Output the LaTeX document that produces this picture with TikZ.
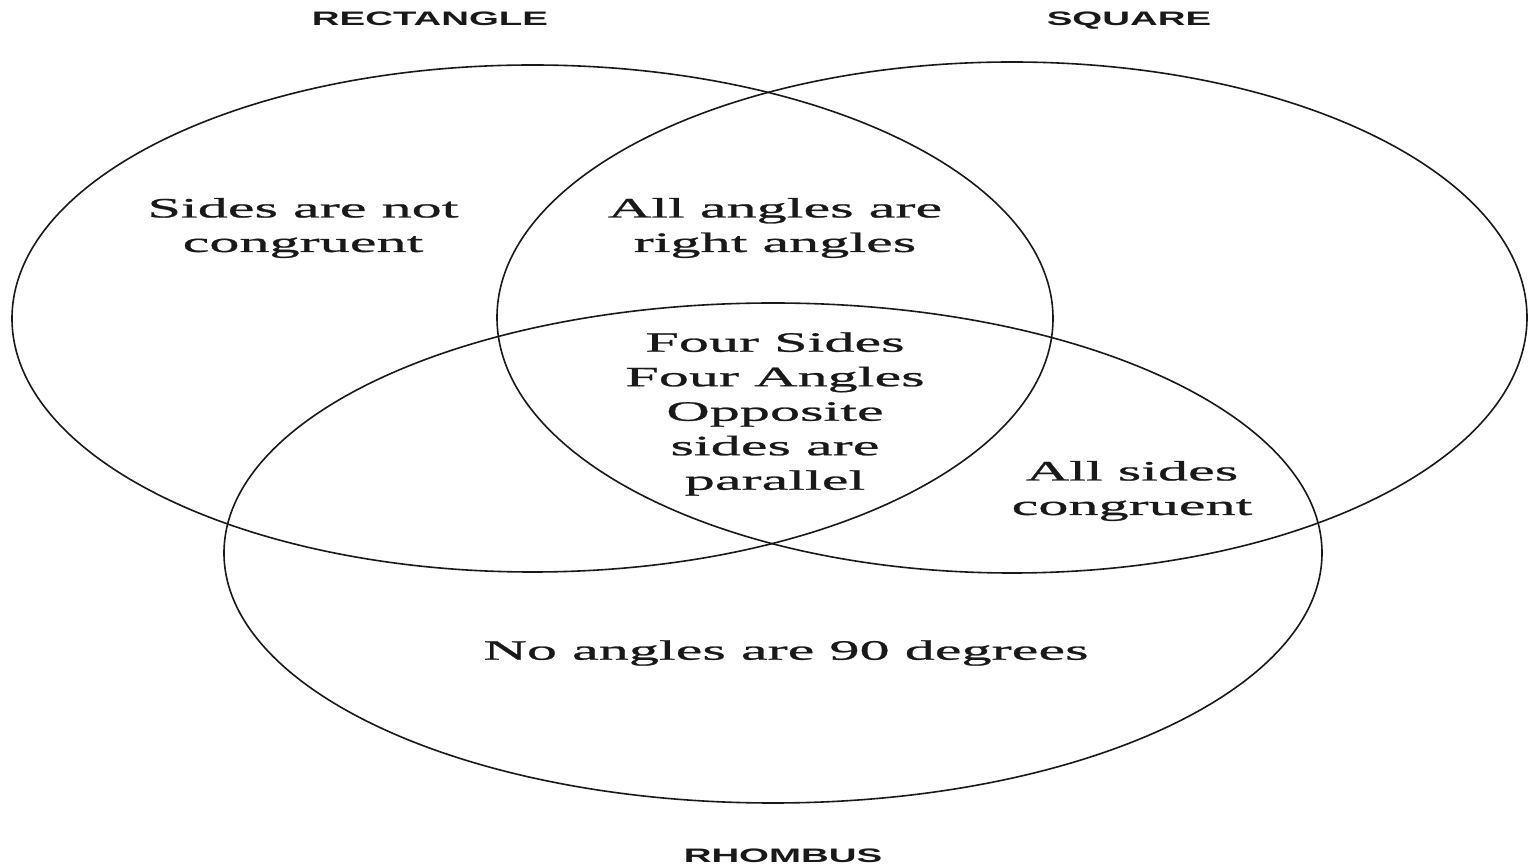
\documentclass[tikz,border=0pt]{standalone}
\usepackage{fontspec}
\newfontfamily\vserif[FakeStretch=2.15,FakeBold=0.9]{Liberation Serif}
\newfontfamily\vsans[FakeStretch=1.97]{Liberation Sans}
\begin{document}
\begin{tikzpicture}[x=0.5pt,y=-0.5pt,
  setline/.style={draw=black!90, line width=0.8pt},
  txt/.style={align=center, inner sep=0pt, text=black!90,
    font=\vserif\fontsize{14}{17.25}\selectfont},
  title/.style={inner sep=0pt, text=black!90,
    font=\vsans\bfseries\fontsize{9.75}{11}\selectfont}]
\useasboundingbox[fill=white] (0,0) rectangle (1528,865);
% sets
\draw[setline] (532.5,318.5) ellipse [x radius=520.5, y radius=253.5];
\draw[setline] (1012,317.5) ellipse [x radius=515, y radius=255.5];
\draw[setline] (773,553) ellipse [x radius=549, y radius=250];
% titles
\node[title] (trect) at (430,19) {RECTANGLE};
\node[title] (tsq) at (1129,21) {SQUARE};
\node[title] (trh) at (783,856) {RHOMBUS};
% region texts
\node[txt] (notcong) at (303,228) {Sides are not\\congruent};
\node[txt] (right) at (775,228) {All angles are\\right angles};
\node[txt] (core) at (775,414) {Four Sides\\Four Angles\\Opposite\\sides are\\parallel};
\node[txt] (allsides) at (1132,491) {All sides\\congruent};
\node[txt] (no90) at (786,653) {No angles are 90 degrees};
\end{tikzpicture}
\end{document}
